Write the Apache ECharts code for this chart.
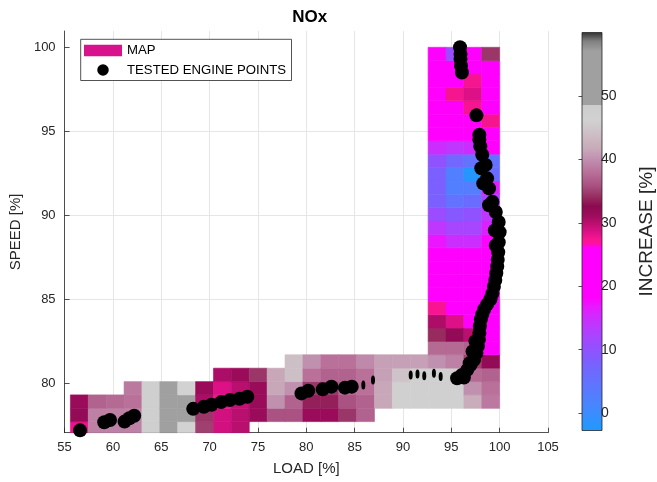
<!DOCTYPE html>
<html>
<head>
<meta charset="utf-8">
<title>NOx</title>
<script src="https://cdn.jsdelivr.net/npm/echarts@6/dist/echarts.min.js"></script>
<style>
  html, body { margin: 0; padding: 0; background: #fff; }
  #chart { width: 657px; height: 482px; }
</style>
</head>
<body>
<div id="chart"></div>
<script>
'use strict';

/*-----------------------------------------------
|   Data
-----------------------------------------------*/

// Map bin edges
const loadEdges = [
  55.6, 57.45, 59.3, 61.15, 63.0, 64.85, 66.7, 68.55, 70.4, 72.25, 74.1, 75.95,
  77.8, 79.65, 81.5, 83.35, 85.2, 87.05, 88.9, 90.75, 92.6, 94.45, 96.3, 98.15, 100.0,
];
const speedEdges = [
  76.92, 77.72, 78.51, 79.31, 80.1, 80.9, 81.7, 82.49, 83.29, 84.08, 84.88, 85.68,
  86.47, 87.27, 88.06, 88.86, 89.66, 90.45, 91.25, 92.04, 92.84, 93.64, 94.43,
  95.23, 96.02, 96.82, 97.62, 98.41, 99.21, 100.0,
];

// First filled speed bin of every load column
const mapRowStart = [0, 0, 0, 0, 0, 0, 0, 0, 0, 0, 1, 1, 1, 1, 1, 1, 1, 2, 2, 2, 2, 2, 2, 2];

// NOx increase [%] per load column, lowest filled bin first
const mapValues = [
  [28, 32, 31.5],
  [39, 39, 37],
  [39, 39, 37.5],
  [39, 39, 38, 38.5],
  [47.5, 47.5, 47.5, 47.5],
  [52, 52, 52, 52],
  [46.5, 52, 52, 46.5],
  [35, 34.5, 30.5, 31.5],
  [29, 29, 27.5, 28.5, 30.5],
  [30, 30, 29.5, 30, 31.5],
  [31.5, 31.5, 31.5, 34.5],
  [36, 40, 41.5, 41.5],
  [36, 37, 40, 44, 44],
  [31.5, 33.5, 34.5, 38, 40],
  [31.5, 33.5, 34.5, 37, 38],
  [34.5, 36, 37, 37, 38],
  [37, 37, 38, 38, 39.5],
  [41.5, 41.5, 41, 41],
  [47, 47, 44.5, 41],
  [47, 47, 47, 41],
  [47, 47, 47, 40, 37.5, 34, 30.5, 27.3, 20, 20, 20, 20, 17, 14, 11, 8, 8, 8, 10, 15,
    20, 20, 20, 20, 20, 20, 20],
  [47, 47, 47, 39, 37.5, 32, 28.5, 25, 20, 20, 20, 20, 15, 12, 9, 5, 2.5, 2.5, 7, 14,
    20, 20, 26, 27.5, 20, 20, 11],
  [42, 40, 37.5, 35, 37, 30, 20, 20, 20, 20, 20, 20, 15, 12, 10, 6, 3, -2, 5, 15,
    20, 20, 27.5, 28.5, 27.5, 20, 20],
  [38.5, 38, 37, 32, 20, 20, 20, 20, 20, 20, 20, 20, 18, 16, 14, 12, 16, 6, 5, 20,
    20, 27.5, 20, 20, 20, 20, 34.5],
];

// Tested engine points [load %, speed %]
const enginePoints = [
  [56.6, 77.2],
  [59.1, 77.68], [59.7, 77.82],
  [61.2, 77.72], [61.7, 77.92], [62.2, 78.07],
  [68.3, 78.48], [69.4, 78.6], [70.2, 78.72], [71.2, 78.88], [72.1, 79.0],
  [73.1, 79.08], [73.9, 79.2],
  [79.5, 79.4], [80.2, 79.56], [81.7, 79.64], [82.6, 79.8], [84.0, 79.74], [84.7, 79.8],
  [95.6, 80.3], [96.1, 80.5], [96.65, 80.8], [97.0, 81.1], [97.35, 81.4], [97.6, 81.8],
  [96.9, 81.2], [97.2, 81.9], [96.3, 80.35], [97.5, 82.5],
  [97.75, 82.2], [97.85, 82.6], [97.9, 83.0], [97.95, 83.4], [98.05, 83.8], [98.2, 84.1],
  [98.4, 84.4], [98.7, 84.7], [99.05, 85.0], [99.25, 85.35], [99.4, 85.75], [99.55, 86.15],
  [99.65, 86.55], [99.75, 86.95], [99.8, 87.35], [99.85, 87.8], [99.9, 88.4], [100.0, 89.0],
  [99.6, 88.2], [99.5, 89.1],
  [99.9, 89.6], [99.6, 90.2], [99.25, 90.8], [98.9, 91.6], [98.7, 92.2], [98.55, 93.0],
  [98.9, 90.6], [98.3, 91.9], [98.1, 92.8], [98.2, 93.6], [98.0, 94.1], [97.9, 94.5],
  [97.9, 94.8],
  [97.6, 95.95],
  [96.1, 98.5], [96.0, 98.9], [95.95, 99.3], [95.95, 99.6], [95.9, 100.0],
];
// Thin partial marks along the lower strip
const engineSlivers = [
  [85.9, 79.9], [86.9, 80.2], [90.8, 80.5], [91.5, 80.55], [92.2, 80.45],
  [93.2, 80.6], [93.9, 80.4],
];

const speedTicks = [80, 85, 90, 95, 100];
const increaseTicks = [0, 10, 20, 30, 40, 50];

/*-----------------------------------------------
|   Colormap
-----------------------------------------------*/

const increaseMin = -2.74;
const increaseMax = 60;
const colorStops = [
  [-2.74, '#1f9aff'], [1.6, '#4a84ff'], [6.8, '#7068ff'], [9.5, '#8a55ff'],
  [12.1, '#a845ff'], [14.7, '#c830ff'], [16.8, '#e818ff'], [18.2, '#ff00ff'],
  [26.0, '#ff00ff'], [26.8, '#ff10a0'], [27.4, '#f8168f'], [28.4, '#e0108a'],
  [29.4, '#c81078'], [31.0, '#a00c5e'], [32.6, '#8c0a50'], [34.2, '#983062'],
  [35.8, '#a85080'], [37.9, '#b87098'], [40.0, '#c090b0'], [41.5, '#c8a8b8'],
  [43.6, '#ccbcc4'], [46.3, '#d2d2d2'], [48.5, '#cccccc'], [48.6, '#a0a0a0'],
  [57.0, '#a0a0a0'], [58.6, '#808080'], [60, '#303030'],
];

const hexToRgb = (hex) => [1, 3, 5].map((k) => parseInt(hex.slice(k, k + 2), 16));

// Sample the colormap evenly for the visualMap
const buildColormap = (n) => {
  const colors = [];
  for (let k = 0; k < n; k++) {
    const v = increaseMin + ((increaseMax - increaseMin) * k) / (n - 1);
    let s = 0;
    while (s < colorStops.length - 2 && colorStops[s + 1][0] < v) s++;
    const [v0, c0] = colorStops[s];
    const [v1, c1] = colorStops[s + 1];
    const t = Math.min(1, Math.max(0, (v - v0) / (v1 - v0)));
    const a = hexToRgb(c0);
    const b = hexToRgb(c1);
    const rgb = a.map((x, i) => Math.round(x + (b[i] - x) * t));
    colors.push(`rgb(${rgb.join(',')})`);
  }
  return colors;
};

// Same colormap as a vertical gradient for the colorbar (bottom = min)
const colorbarGradient = () =>
  new echarts.graphic.LinearGradient(
    0, 1, 0, 0,
    colorStops.map(([v, color]) => ({
      offset: (v - increaseMin) / (increaseMax - increaseMin),
      color,
    }))
  );

/*-----------------------------------------------
|   Chart
-----------------------------------------------*/

const mapCells = [];
mapValues.forEach((column, i) => {
  column.forEach((value, k) => {
    const j = mapRowStart[i] + k;
    mapCells.push([loadEdges[i], loadEdges[i + 1], speedEdges[j], speedEdges[j + 1], value]);
  });
});

const FONT = "'Liberation Sans', Arial, Helvetica, sans-serif";
const AXIS_COLOR = '#262626';
const GRID_COLOR = '#dfdfdf';

const Plot = { left: 61.3, top: 31, width: 486.7, height: 401.7 };
const Bar = { left: 582, top: 32.5, width: 20, height: 398 };

const renderCell = (params, api) => {
  const topLeft = api.coord([api.value(0), api.value(3)]);
  const bottomRight = api.coord([api.value(1), api.value(2)]);
  const shape = echarts.graphic.clipRectByRect(
    {
      x: topLeft[0],
      y: topLeft[1],
      width: bottomRight[0] - topLeft[0],
      height: bottomRight[1] - topLeft[1],
    },
    {
      x: params.coordSys.x,
      y: params.coordSys.y,
      width: params.coordSys.width,
      height: params.coordSys.height,
    }
  );
  if (!shape) return null;
  const color = api.visual('color');
  return {
    type: 'rect',
    shape,
    style: { fill: color, stroke: color, lineWidth: 0.6 },
  };
};

const chart = echarts.init(document.getElementById('chart'), null, { renderer: 'canvas' });

chart.setOption({
  animation: false,
  backgroundColor: '#fff',
  textStyle: { fontFamily: FONT },
  title: {
    text: 'NOx',
    left: Plot.left + Plot.width / 2,
    top: 4,
    textAlign: 'center',
    textStyle: { fontFamily: FONT, fontSize: 17, fontWeight: 'bold', color: '#000' },
  },
  legend: {
    orient: 'vertical',
    left: 80.7,
    top: 39.3,
    padding: [4.7, 5.5, 4, 3.3],
    itemWidth: 38,
    itemHeight: 11.5,
    itemGap: 6.5,
    backgroundColor: '#fff',
    borderColor: AXIS_COLOR,
    borderWidth: 0.8,
    z: 10,
    textStyle: { fontFamily: FONT, fontSize: 13.2, lineHeight: 12, color: '#000' },
    data: [
      { name: 'MAP', icon: 'rect', itemStyle: { color: '#d8128c' } },
      { name: 'TESTED ENGINE POINTS', icon: 'circle', itemStyle: { color: '#000' } },
    ],
  },
  graphic: [
    {
      type: 'rect',
      z: 5,
      shape: { x: Bar.left, y: Bar.top, width: Bar.width, height: Bar.height },
      style: { fill: colorbarGradient(), stroke: AXIS_COLOR, lineWidth: 0.8 },
    },
  ],
  grid: [
    { ...Plot, containLabel: false },
    { ...Bar, show: false },
  ],
  xAxis: [
    {
      type: 'value',
      min: 55,
      max: 105,
      interval: 5,
      name: 'LOAD [%]',
      nameLocation: 'middle',
      nameGap: 29,
      nameTextStyle: { fontFamily: FONT, fontSize: 15, color: AXIS_COLOR },
      axisLine: { lineStyle: { color: AXIS_COLOR, width: 0.8 } },
      axisTick: { inside: true, length: 5, lineStyle: { color: AXIS_COLOR, width: 0.8 } },
      axisLabel: { fontFamily: FONT, fontSize: 13, color: AXIS_COLOR, margin: 8 },
      splitLine: { show: true, lineStyle: { color: GRID_COLOR, width: 0.8 } },
    },
    { type: 'value', gridIndex: 1, show: false, min: 0, max: 1 },
  ],
  yAxis: [
    {
      type: 'value',
      min: 77.06,
      max: 100.97,
      splitNumber: 5,
      name: 'SPEED [%]',
      nameLocation: 'middle',
      nameGap: 29,
      nameTextStyle: { fontFamily: FONT, fontSize: 15, color: AXIS_COLOR },
      axisLine: { show: true, lineStyle: { color: AXIS_COLOR, width: 0.8 } },
      axisTick: {
        show: true,
        inside: true,
        length: 5,
        customValues: speedTicks,
        lineStyle: { color: AXIS_COLOR, width: 0.8 },
      },
      axisLabel: {
        fontFamily: FONT,
        fontSize: 13,
        color: AXIS_COLOR,
        margin: 9,
        customValues: speedTicks,
      },
      splitLine: {
        show: true,
        showMinLine: false,
        showMaxLine: false,
        lineStyle: { color: GRID_COLOR, width: 0.8 },
      },
    },
    {
      type: 'value',
      gridIndex: 1,
      position: 'right',
      min: increaseMin,
      max: increaseMax,
      z: 10,
      name: 'INCREASE [%]',
      nameLocation: 'middle',
      nameGap: 44,
      nameTextStyle: { fontFamily: FONT, fontSize: 19, color: AXIS_COLOR },
      axisLine: { show: false },
      axisTick: {
        show: true,
        inside: true,
        length: 3.5,
        customValues: increaseTicks,
        lineStyle: { color: AXIS_COLOR, width: 0.8 },
      },
      axisLabel: {
        fontFamily: FONT,
        fontSize: 14,
        color: AXIS_COLOR,
        margin: 8,
        customValues: increaseTicks,
      },
      splitLine: { show: false },
      splitArea: { show: false },
    },
  ],
  visualMap: {
    type: 'continuous',
    show: false,
    seriesIndex: 0,
    dimension: 4,
    min: increaseMin,
    max: increaseMax,
    inRange: { color: buildColormap(256) },
  },
  series: [
    {
      name: 'MAP',
      type: 'custom',
      xAxisIndex: 0,
      yAxisIndex: 0,
      renderItem: renderCell,
      encode: { x: [0, 1], y: [2, 3] },
      data: mapCells,
      z: 1,
    },
    {
      name: 'TESTED ENGINE POINTS',
      type: 'scatter',
      symbol: 'circle',
      symbolSize: 14,
      itemStyle: { color: '#000', opacity: 1 },
      data: enginePoints,
      z: 3,
    },
    {
      name: 'TESTED ENGINE POINTS',
      type: 'scatter',
      symbol: 'circle',
      symbolSize: [4, 9],
      itemStyle: { color: '#000', opacity: 1 },
      data: engineSlivers,
      z: 3,
    },
  ],
});
</script>
</body>
</html>
